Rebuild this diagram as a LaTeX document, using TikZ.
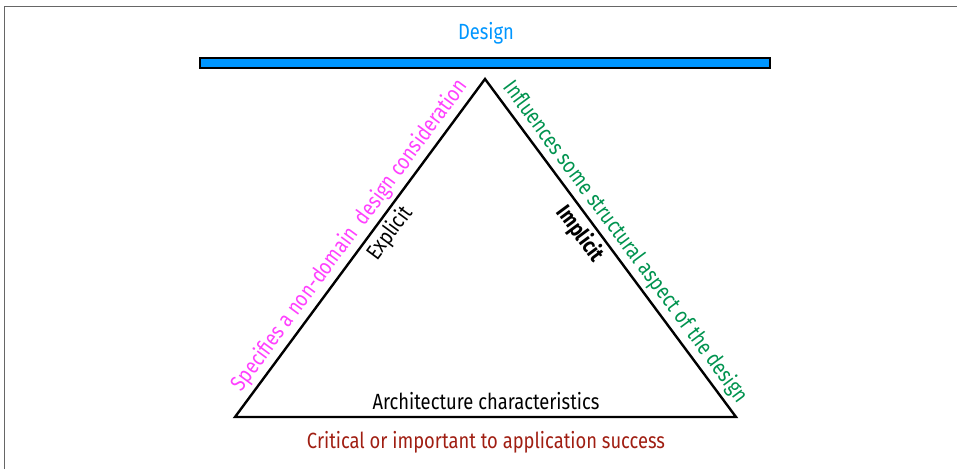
\documentclass[tikz,border=0pt]{standalone}
\usepackage{fontspec}
\setmainfont{Fira Sans}[FakeStretch=0.835]
\usepackage{tikz}
\usetikzlibrary{positioning,calc}
\definecolor{designblue}{HTML}{0096FF}
\definecolor{specmagenta}{HTML}{FF40FF}
\definecolor{infgreen}{HTML}{00934F}
\definecolor{critred}{HTML}{A01E12}
\definecolor{framegray}{HTML}{666666}

\begin{document}
\begin{tikzpicture}[x=1pt,y=-1pt,
  txt/.style={font=\fontsize{22}{26}\selectfont,inner sep=2pt},
  sidetxt/.style={txt,inner sep=4.5pt},
  side/.style={line width=2.4pt,line join=miter}]
  \useasboundingbox (0,0) rectangle (957,469);

  % Frame
  \draw[framegray,line width=1pt] (4,469) |- (957,6);

  % Design bar
  \node[draw=black,line width=2.4pt,fill=designblue,minimum width=569.6pt,minimum height=9.6pt,inner sep=0pt] (bar) at (485,63) {};
  \node[txt,color=designblue] (design) at (486,33) {Design};

  % Triangle
  \coordinate (top) at (485,79);
  \coordinate (left) at (235,417);
  \coordinate (right) at (736,417);
  \draw[side] (left) -- (top) -- (right) -- cycle;

  % Left side
  \path (left) -- (top)
    node[sidetxt,pos=0.51,sloped,above,color=specmagenta] (specifies) {Specifies a non-domain~ design consideration}
    node[sidetxt,pos=0.57,sloped,below] (explicit) {Explicit};

  % Right side
  \path (top) -- (right)
    node[sidetxt,pos=0.51,sloped,above,color=infgreen] (influences) {Influences some structural aspect of the design}
    node[sidetxt,pos=0.43,sloped,below,font=\fontsize{22}{26}\selectfont\bfseries] (implicit) {Implicit};

  % Base
  \node[txt] (arch) at (486,401) {Architecture characteristics};
  \node[txt,color=critred] (critical) at (486,442) {Critical or important to application success};
\end{tikzpicture}
\end{document}
